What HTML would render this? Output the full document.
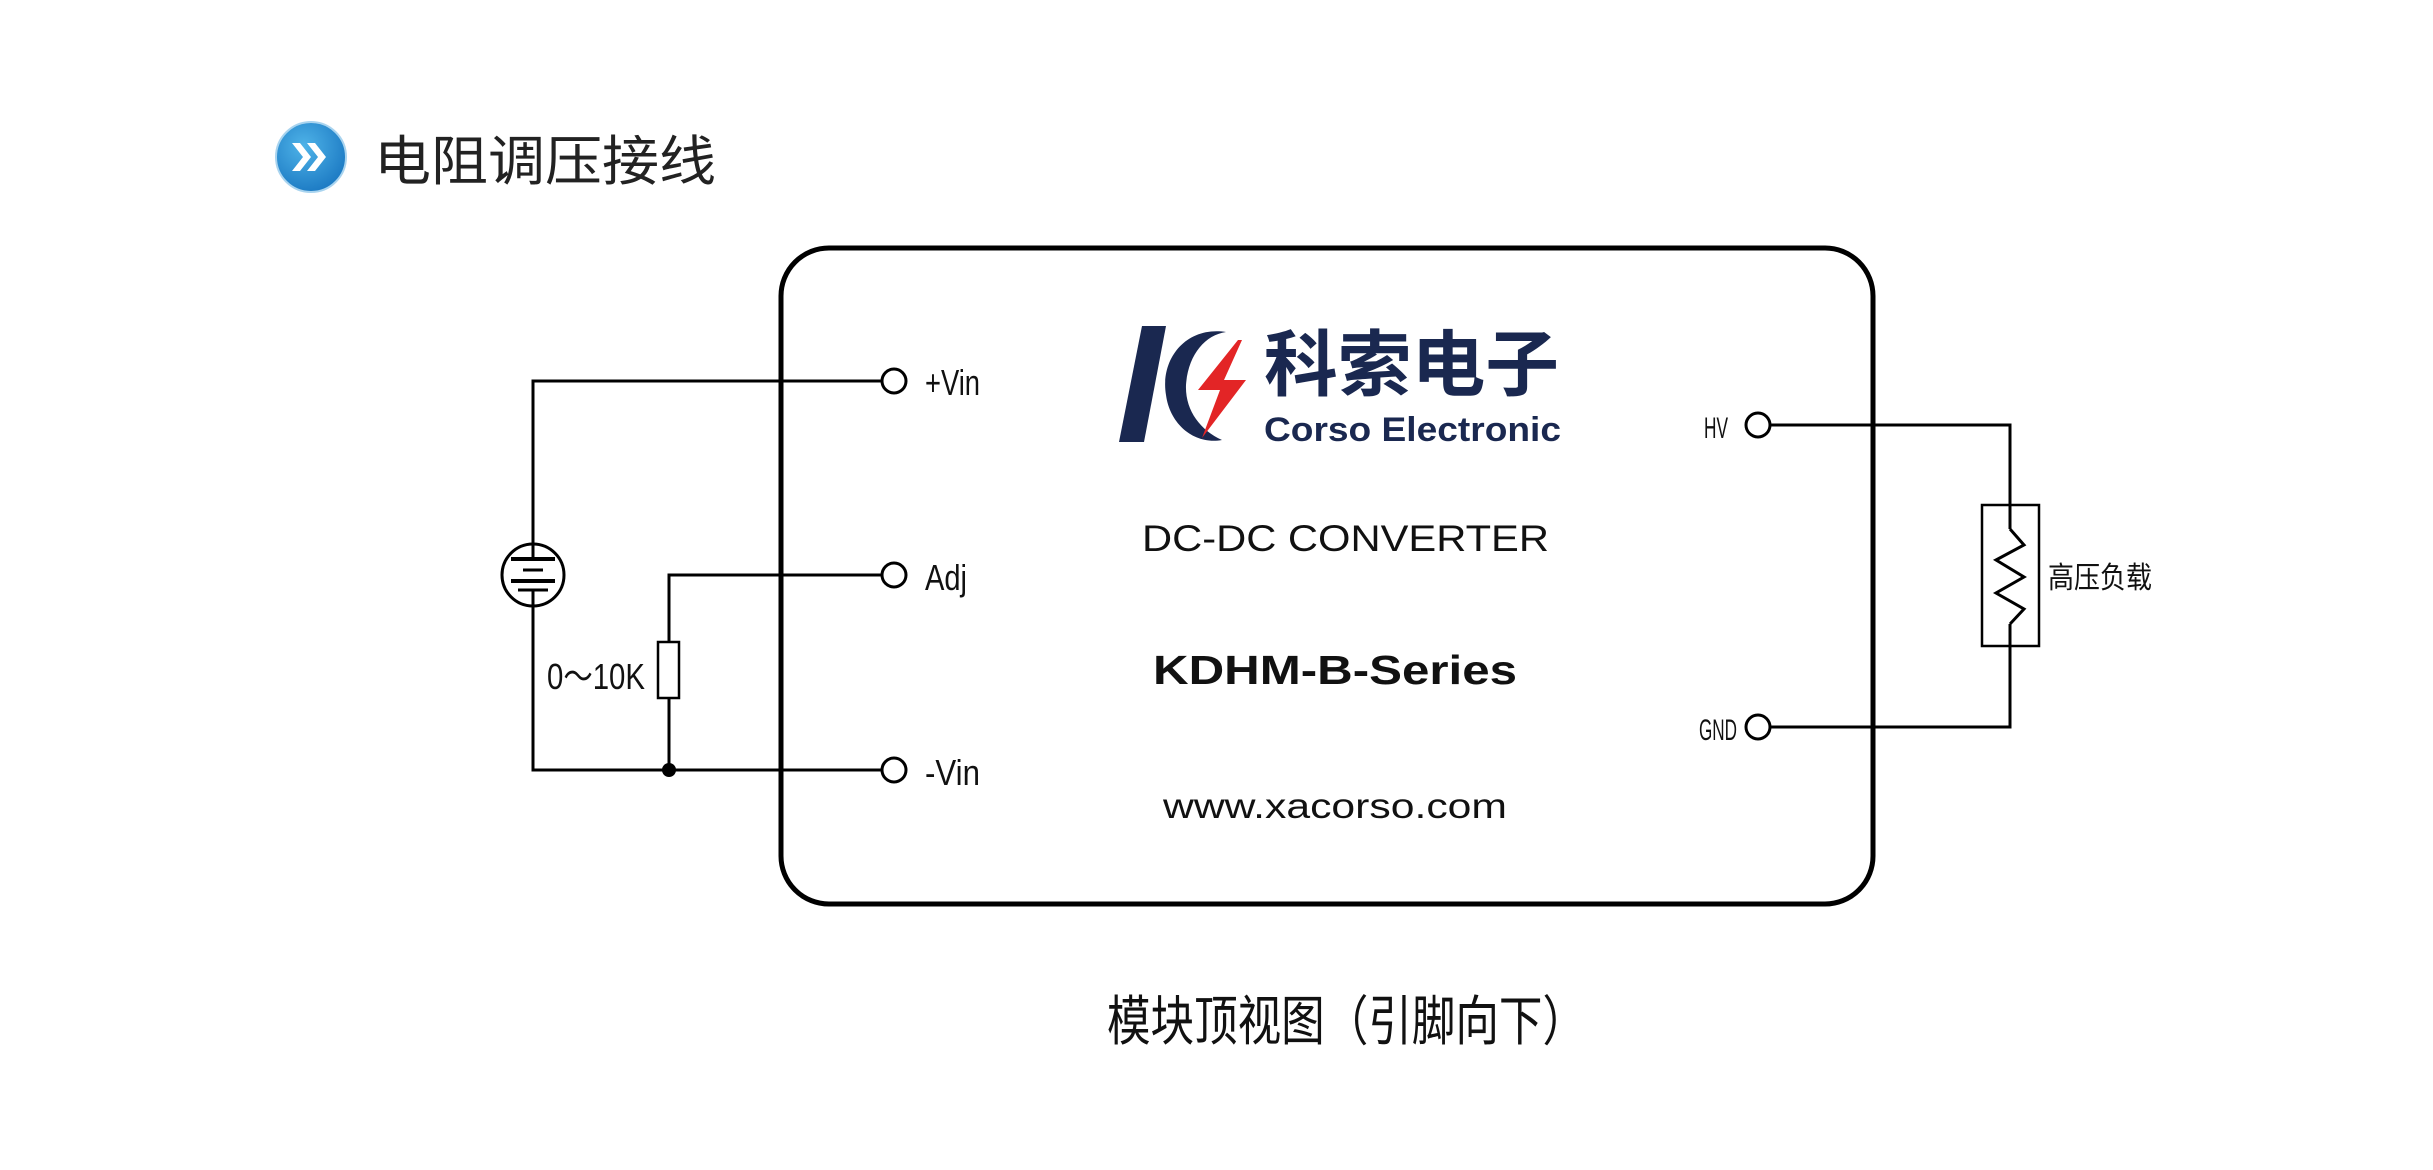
<!DOCTYPE html>
<html><head><meta charset="utf-8"><style>
html,body{margin:0;padding:0;background:#fff;width:2433px;height:1170px;overflow:hidden}
svg{display:block}
.l{font-family:"Liberation Sans","Noto Sans CJK SC",sans-serif}
</style></head><body>
<svg width="2433" height="1170" viewBox="0 0 2433 1170" xmlns="http://www.w3.org/2000/svg" class="l">
<defs><radialGradient id="g" cx="40%" cy="35%" r="70%"><stop offset="0" stop-color="#4fb3e8"/><stop offset="1" stop-color="#1a78c2"/></radialGradient></defs>
<!-- header icon -->
<circle cx="311" cy="157" r="35" fill="url(#g)"/>
<circle cx="311" cy="157" r="35" fill="none" stroke="#a9d4ef" stroke-width="2"/>
<path d="M292 143 l11 14 l-11 14 h8 l11 -14 l-11 -14z M307 143 l11 14 l-11 14 h8 l11 -14 l-11 -14z" fill="#fff"/>
<text x="374" y="180" font-size="54" fill="#222" textLength="342" lengthAdjust="spacingAndGlyphs" font-family="Liberation Sans, Noto Sans CJK SC, sans-serif">电阻调压接线</text>
<!-- box -->
<rect x="781" y="248" width="1092" height="656" rx="48" fill="none" stroke="#000" stroke-width="5"/>
<!-- logo -->
<path d="M1142 326 h24 l-22 116 h-25z" fill="#1a2850"/>
<path d="M1226 332 C1185 326 1160 360 1166 395 C1170 425 1195 445 1222 440 C1200 430 1185 410 1186 385 C1188 355 1205 335 1226 332z" fill="#1a2850"/>
<path d="M1238 340 l-40 50 h22 l-18 48 l44 -58 h-22 l18 -40z" fill="#e32526"/>
<text x="1264" y="390" font-size="72" font-weight="bold" fill="#1a2850" textLength="295" lengthAdjust="spacingAndGlyphs" font-family="Liberation Sans, Noto Sans CJK SC, sans-serif">科索电子</text>
<text x="1264" y="441" font-size="34" font-weight="bold" fill="#1a2850" textLength="297" lengthAdjust="spacingAndGlyphs">Corso Electronic</text>
<text x="1142" y="551" font-size="37" fill="#111" textLength="407" lengthAdjust="spacingAndGlyphs">DC-DC CONVERTER</text>
<text x="1153" y="684" font-size="41" font-weight="bold" fill="#111" textLength="364" lengthAdjust="spacingAndGlyphs">KDHM-B-Series</text>
<text x="1163" y="818" font-size="35" fill="#111" textLength="344" lengthAdjust="spacingAndGlyphs">www.xacorso.com</text>
<!-- left circuit -->
<g fill="none" stroke="#000" stroke-width="3">
<polyline points="881,381 533,381 533,559"/>
<polyline points="533,590 533,770 881,770"/>
<polyline points="881,575 669,575 669,642"/>
<line x1="669" y1="698" x2="669" y2="770"/>
<rect x="658" y="642" width="21" height="56" stroke-width="2.5"/>
<circle cx="533" cy="575" r="31"/>
<line x1="511" y1="559" x2="555" y2="559" stroke-width="4"/>
<line x1="523" y1="570" x2="543" y2="570"/>
<line x1="511" y1="581" x2="555" y2="581" stroke-width="4"/>
<line x1="518" y1="590" x2="548" y2="590"/>
<circle cx="894" cy="381" r="12"/>
<circle cx="894" cy="575" r="12"/>
<circle cx="894" cy="770" r="12"/>
</g>
<circle cx="669" cy="770" r="7" fill="#000"/>
<g font-size="36" fill="#111">
<text x="925" y="395" textLength="55" lengthAdjust="spacingAndGlyphs">+Vin</text>
<text x="925" y="590" textLength="42" lengthAdjust="spacingAndGlyphs">Adj</text>
<text x="925" y="785" textLength="55" lengthAdjust="spacingAndGlyphs">-Vin</text>
<text x="547" y="689" textLength="98" lengthAdjust="spacingAndGlyphs" font-family="Liberation Sans, Noto Sans CJK SC, sans-serif">0～10K</text>
</g>
<!-- right circuit -->
<g fill="none" stroke="#000" stroke-width="3">
<polyline points="1771,425 2010,425 2010,529"/>
<polyline points="2010,624 2010,727 1771,727"/>
<rect x="1982" y="505" width="57" height="141" stroke-width="2.5"/>
<polyline points="2010,529 2024,545 1996,560 2024,577 1996,593 2024,609 2010,624"/>
<circle cx="1758" cy="425" r="12"/>
<circle cx="1758" cy="727" r="12"/>
</g>
<g font-size="30" fill="#111">
<text x="1704" y="438" textLength="24" lengthAdjust="spacingAndGlyphs">HV</text>
<text x="1699" y="740" textLength="38" lengthAdjust="spacingAndGlyphs">GND</text>
<text x="2048" y="588" textLength="104" lengthAdjust="spacingAndGlyphs" font-family="Liberation Sans, Noto Sans CJK SC, sans-serif">高压负载</text>
</g>
<text x="1107" y="1040" font-size="54" fill="#111" textLength="479" lengthAdjust="spacingAndGlyphs" font-family="Liberation Sans, Noto Sans CJK SC, sans-serif">模块顶视图（引脚向下）</text>
</svg>
</body></html>
